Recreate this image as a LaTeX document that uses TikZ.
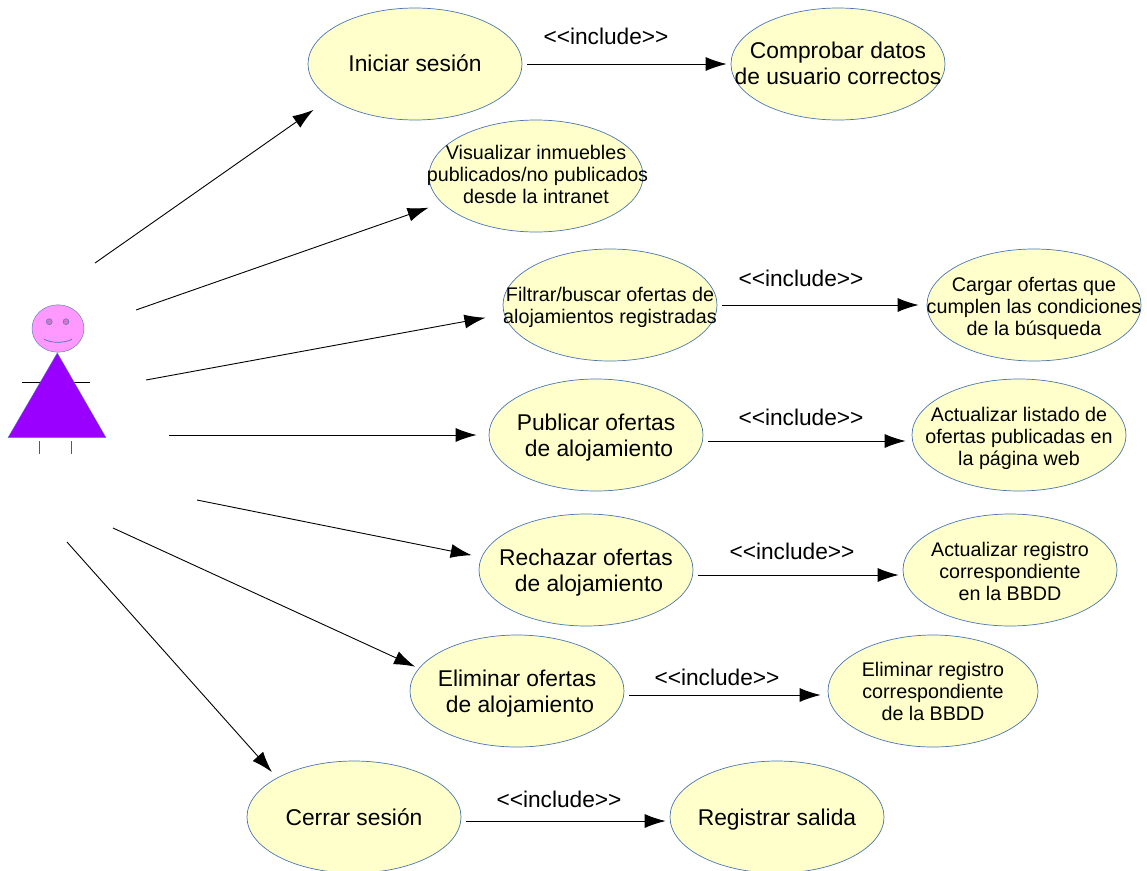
\documentclass[tikz,border=0pt]{standalone}
\usepackage{fontspec}
\setmainfont{Liberation Sans}
\usetikzlibrary{arrows.meta,shapes.geometric}
\definecolor{lineblue}{HTML}{4A76B0}
\definecolor{ucfill}{HTML}{FFFFCC}
\definecolor{headfill}{HTML}{FF99FF}
\definecolor{bodyfill}{HTML}{9900FF}
\definecolor{eyefill}{HTML}{CC77CC}
\tikzset{
  usecase/.style={draw=lineblue,line width=0.7pt,fill=ucfill,ellipse,inner sep=0pt,minimum width=214pt,minimum height=112pt},
  bigtext/.style={align=center,font=\fontsize{22.8}{26}\selectfont},
  smalltext/.style={align=center,font=\fontsize{19.7}{22}\selectfont},
  inctext/.style={font=\fontsize{22.7}{26}\selectfont},
  assoc/.style={-{Latex[length=21pt,width=14pt]},line width=0.9pt},
  incl/.style={assoc,shorten <=5pt,shorten >=4pt}
}
\begin{document}
\begin{tikzpicture}[x=1pt,y=-1pt]
 \useasboundingbox (0,0) rectangle (1147,870);

    % Actor
    \draw [line width=0.9pt] (21.7,382) -- (90,382);
    \draw [gray!70!black,line width=0.9pt] (39.7,441) -- (39.7,454);
    \draw [gray!70!black,line width=0.9pt] (71.7,441) -- (71.7,454);
    \draw [lineblue,fill=bodyfill] (57.3,353) -- (106,437.7) -- (8,437.7) -- cycle;
    \draw [lineblue,fill=headfill] (58,328.5) ellipse (26 and 23.7);
    \draw [lineblue,fill=eyefill] (49.3,321.7) circle (3);
    \draw [lineblue,fill=eyefill] (66,321.7) circle (3);
    \draw [lineblue,line width=0.7pt] (44,339.3) .. controls (52,343.3) and (64,343.3) .. (72,339.3);

    % Use cases
    \node (iniciar) [usecase,label={[bigtext,yshift=1pt]center:Iniciar sesión}] at (415,64) {};
    \node (comprobar) [usecase,label={[bigtext,yshift=1pt]center:{Comprobar datos\hspace{16pt}\\de usuario correctos}}] at (838,64) {};
    \node (visualizar) [usecase,label={[smalltext,yshift=1.5pt]center:{Visualizar inmuebles\hspace{3pt}\\\hspace*{3pt}publicados/no publicados\\desde la intranet}}] at (536,176) {};
    \node (filtrar) [usecase,label={[smalltext,yshift=-2pt]center:{Filtrar/buscar ofertas de\hspace{4pt}\\alojamientos registradas}}] at (610,305) {};
    \node (cargar) [usecase,label={[smalltext,yshift=-3pt]center:{Cargar ofertas que\hspace{4pt}\\cumplen las condiciones\\de la búsqueda\hspace{4pt}}}] at (1034,305) {};
    \node (publicar) [usecase,label={[bigtext,yshift=-3pt]center:{Publicar ofertas\\\hspace*{6pt}de alojamiento}}] at (596,435) {};
    \node (listado) [usecase,label={[smalltext,yshift=-3pt]center:{Actualizar listado de\\ofertas publicadas en\\la página web}}] at (1019,435) {};
    \node (rechazar) [usecase,label={[bigtext,yshift=-3pt]center:{Rechazar ofertas\\\hspace*{6pt}de alojamiento}}] at (586,570) {};
    \node (registro) [usecase,label={[smalltext,yshift=-1pt]center:{Actualizar registro\\correspondiente\\en la BBDD}}] at (1010,570) {};
    \node (eliminar) [usecase,label={[bigtext,yshift=-3pt]center:{Eliminar ofertas\\\hspace*{6pt}de alojamiento}}] at (517,691) {};
    \node (borrar) [usecase,minimum width=210pt,label={[smalltext]center:{Eliminar registro\\correspondiente\\de la BBDD}}] at (933,691) {};
    \node (cerrar) [usecase,label={[bigtext]center:Cerrar sesión}] at (354,817) {};
    \node (salida) [usecase,label={[bigtext,yshift=-3pt]center:Registrar salida}] at (777,817) {};

    % Free ends next to the actor
    \coordinate (a_1) at (95,263);
    \coordinate (a_2) at (136,310);
    \coordinate (a_3) at (146,380);
    \coordinate (a_4) at (169,435);
    \coordinate (a_5) at (197,500);
    \coordinate (a_6) at (113,528);
    \coordinate (a_7) at (67,542);

    % Draw actor associations
    \draw [assoc,shorten >=20pt] (a_1) -- (iniciar.202.4);
    \draw [assoc,shorten >=14pt] (a_2) -- (visualizar.196.6);
    \draw [assoc,shorten >=19pt] (a_3) -- (filtrar.185.1);
    \draw [assoc,shorten >=12pt] (a_4) -- (publicar.west);
    \draw [assoc,shorten >=10pt] (a_5) -- (rechazar.173.5);
    \draw [assoc,shorten >=4pt] (a_6) -- (eliminar.167);
    \draw [assoc,shorten >=7.6pt] (a_7) -- (cerrar.153.9);

    % Draw includes
    \draw [incl] (iniciar) -- (comprobar);
    \draw [incl,shorten >=8pt] (filtrar) -- (cargar);
    \draw [incl,shorten >=6pt] ([yshift=-6pt]publicar.east) -- ([yshift=-6pt]listado.west);
    \draw [incl] ([yshift=-5pt]rechazar.east) -- ([yshift=-5pt]registro.west);
    \draw [incl,shorten >=7pt] ([yshift=-4pt]eliminar.east) -- ([yshift=-4pt]borrar.west);
    \draw [incl] ([yshift=-4pt]cerrar.east) -- ([yshift=-4pt]salida.west);

    \node (inc_1) [inctext] at (606,36) {<{}<include>{}>};
    \node (inc_2) [inctext] at (801,278) {<{}<include>{}>};
    \node (inc_3) [inctext] at (801,417.5) {<{}<include>{}>};
    \node (inc_4) [inctext] at (792,551.5) {<{}<include>{}>};
    \node (inc_5) [inctext] at (717,677.5) {<{}<include>{}>};
    \node (inc_6) [inctext] at (559,799.5) {<{}<include>{}>};

\end{tikzpicture}
\end{document}
